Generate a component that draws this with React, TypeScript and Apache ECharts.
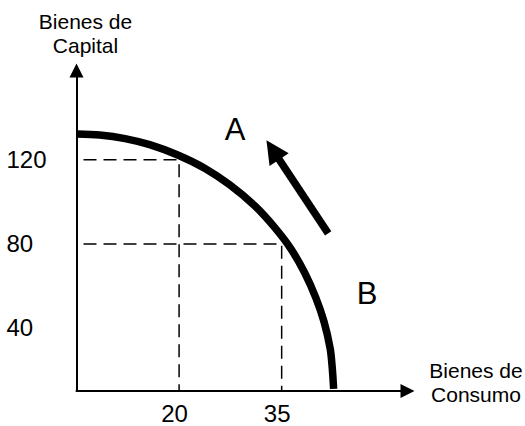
import React, { useEffect, useRef } from 'react';
import * as echarts from 'echarts';

// Axis ranges (origin of the sketch is not at zero)
const xMin = 5;
const xMax = 53.4;
const yMin = 10;
const yMax = 162.5;

// Tick labels
const xTickValues = [20, 35];
const yTickValues = [40, 80, 120];

// Production possibilities frontier (Bienes de Consumo, Bienes de Capital)
const frontierX = [5.0, 8.4, 12.1, 15.7, 19.8, 23.8, 27.4, 31.1, 34.0, 36.4, 38.4, 40.0, 41.2, 42.1, 42.4, 42.6];
const frontierY = [132.3, 131.8, 130.1, 127.2, 122.3, 115.9, 108.1, 98.0, 87.7, 77.4, 66.0, 54.3, 42.9, 30.1, 20.8, 11.0];

// Dashed guide corners
const guideX = [20, 35];
const guideY = [120, 80];

// Movement arrow from B towards A
const arrowFrom = [41.8, 85.0];
const arrowTo = [33.7, 124.7];

// Annotations
const xAxisTitle = 'Bienes de\nConsumo';
const yAxisTitle = 'Bienes de\nCapital';
const pointLabels = ['A', 'B'];

const FONT = 'Arial, Liberation Sans, Helvetica, sans-serif';

export default function App() {
  const ref = useRef<HTMLDivElement>(null);

  useEffect(() => {
    document.body.style.margin = '0';
    document.body.style.fontFamily = FONT;
    if (!ref.current) return;
    const chart = echarts.init(ref.current, null, { renderer: 'svg' });

    const axisLineStyle = { color: '#000', width: 2 };

    const guideSeries = guideX.map((gx, i) => ({
      type: 'line',
      data: [
        [xMin, guideY[i]],
        [gx, guideY[i]],
        [gx, yMin],
      ],
      symbol: 'none',
      silent: true,
      z: 2,
      lineStyle: { color: '#000', width: 1.5, type: [13, 7], dashOffset: 13 },
    }));

    const option: any = {
      animation: false,
      textStyle: { fontFamily: FONT, color: '#000' },
      grid: {
        left: 76.5,
        right: 117.5,
        top: 70.5,
        bottom: 35,
        containLabel: false,
        outerBoundsMode: 'none',
      },
      xAxis: {
        type: 'value',
        min: xMin,
        max: xMax,
        axisLine: {
          show: true,
          onZero: false,
          symbol: ['none', 'triangle'],
          symbolSize: [14, 14],
          lineStyle: axisLineStyle,
        },
        axisTick: { show: false },
        splitLine: { show: false },
        axisLabel: {
          customValues: xTickValues,
          color: '#000',
          fontSize: 24,
          lineHeight: 24,
          fontFamily: FONT,
          margin: 10,
          padding: [0, 9, 0, 0],
        },
      },
      yAxis: {
        type: 'value',
        min: yMin,
        max: yMax,
        axisLine: {
          show: true,
          onZero: false,
          symbol: ['none', 'triangle'],
          symbolSize: [14, 14],
          lineStyle: axisLineStyle,
        },
        axisTick: { show: false },
        splitLine: { show: false },
        axisLabel: {
          customValues: yTickValues,
          color: '#000',
          fontSize: 24,
          lineHeight: 24,
          fontFamily: FONT,
          align: 'left',
          margin: 70,
        },
      },
      series: [
        ...guideSeries,
        {
          type: 'line',
          data: frontierX.map((x, i) => [x, frontierY[i]]),
          symbol: 'none',
          smooth: 0.3,
          clip: false,
          silent: true,
          z: 3,
          lineStyle: { color: '#000', width: 7.5, cap: 'butt' },
        },
        {
          type: 'lines',
          coordinateSystem: 'cartesian2d',
          symbol: ['none', 'triangle'],
          symbolSize: 23,
          silent: true,
          z: 4,
          lineStyle: { color: '#000', width: 7.5, opacity: 1, curveness: 0 },
          data: [{ coords: [arrowFrom, arrowTo] }],
        },
      ],
      graphic: [
        {
          type: 'text',
          x: 85.5,
          y: 9.2,
          style: {
            text: yAxisTitle,
            fontSize: 21,
            fontFamily: FONT,
            fill: '#000',
            lineHeight: 24,
            align: 'center',
            verticalAlign: 'top',
            textAlign: 'center',
            textVerticalAlign: 'top',
          },
        },
        {
          type: 'text',
          x: 476,
          y: 358.7,
          style: {
            text: xAxisTitle,
            fontSize: 21,
            fontFamily: FONT,
            fill: '#000',
            lineHeight: 24,
            align: 'center',
            verticalAlign: 'top',
            textAlign: 'center',
            textVerticalAlign: 'top',
          },
        },
        {
          type: 'text',
          x: 235,
          y: 129.5,
          style: {
            text: pointLabels[0],
            fontSize: 31,
            fontFamily: FONT,
            fill: '#000',
            align: 'center',
            verticalAlign: 'middle',
            textAlign: 'center',
            textVerticalAlign: 'middle',
          },
        },
        {
          type: 'text',
          x: 367,
          y: 293.5,
          style: {
            text: pointLabels[1],
            fontSize: 31,
            fontFamily: FONT,
            fill: '#000',
            align: 'center',
            verticalAlign: 'middle',
            textAlign: 'center',
            textVerticalAlign: 'middle',
          },
        },
      ],
    };

    chart.setOption(option);
    return () => {
      chart.dispose();
    };
  }, []);

  return <div ref={ref} style={{ width: 525, height: 426 }} />;
}
